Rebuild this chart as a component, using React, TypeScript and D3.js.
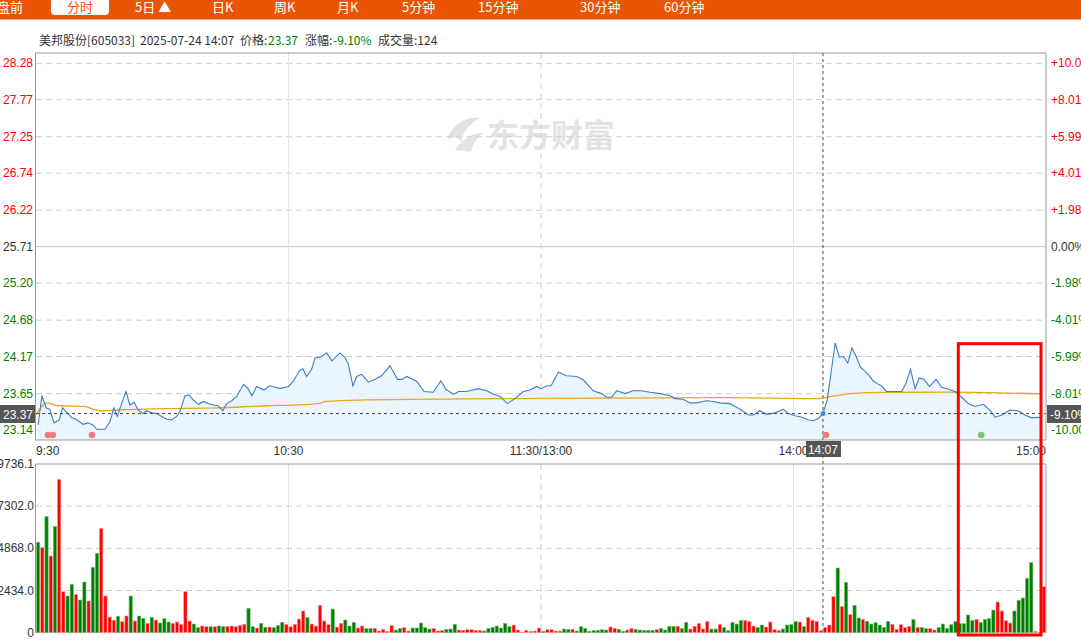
import React from "react";
import * as d3 from "d3";

// ---------- data ----------
const navItems = ["盘前", "分时", "5日 ▲", "日K", "周K", "月K", "5分钟", "15分钟", "30分钟", "60分钟"];
const navX = [-3, 67, 135, 212, 274, 337, 402, 478, 580, 664];
const selectedNav = 1;

const priceTicks = ["28.28", "27.77", "27.25", "26.74", "26.22", "25.71", "25.20", "24.68", "24.17", "23.65", "23.14"];
const pctTicks = ["+10.00%", "+8.01%", "+5.99%", "+4.01%", "+1.98%", "0.00%", "-1.98%", "-4.01%", "-5.99%", "-8.01%", "-10.00%"];
const prevClose = 25.71;
const volTicks = [0, 2434.0, 4868.0, 7302.0, 9736.1];
const volTickLabels = ["0", "2434.0", "4868.0", "7302.0", "9736.1"];
const timeTicks = [0, 60, 120, 180, 240];
const timeLabels = ["9:30", "10:30", "11:30/13:00", "14:00", "15:00"];

// [minute, price]
const priceSeries: [number, number][] = [
  [0.5, 23.21], [1.4, 23.62], [2.4, 23.45], [3.3, 23.43], [4.3, 23.24], [5.5, 23.28], [6.3, 23.45], [7.3, 23.39],
  [8.5, 23.31], [9.5, 23.29], [11.2, 23.22], [12.4, 23.24], [13.5, 23.21], [14.4, 23.15], [16.4, 23.15], [17.6, 23.26],
  [18.5, 23.45], [19.3, 23.33], [20.4, 23.52], [21.4, 23.68], [22.3, 23.49], [23.3, 23.53], [24.3, 23.42], [25.4, 23.37],
  [26.3, 23.41], [27.5, 23.38], [28.7, 23.37], [29.9, 23.33], [31.1, 23.29], [32.2, 23.28], [33.4, 23.33], [34.2, 23.4],
  [35.4, 23.62], [36.4, 23.63], [37.4, 23.56], [38.6, 23.5], [39.8, 23.54], [40.9, 23.51], [42.1, 23.49], [43.3, 23.48],
  [44.4, 23.41], [45.3, 23.51], [46.5, 23.55], [47.7, 23.61], [49.3, 23.78], [50.4, 23.72], [51.3, 23.62], [52.4, 23.75],
  [54.2, 23.7], [55.6, 23.76], [58, 23.72], [60, 23.75], [61.1, 23.82], [62.6, 23.97], [63.4, 24.0], [64.3, 23.89],
  [65.5, 23.99], [66.3, 24.15], [67.5, 24.16], [69.1, 24.22], [70.3, 24.11], [72.2, 24.22], [73.4, 24.16], [74.2, 24.07],
  [75.3, 23.76], [76.2, 23.89], [77.4, 23.92], [79, 23.81], [80.6, 23.85], [82.1, 23.9], [84.1, 24.04], [85.9, 23.85],
  [87, 23.85], [88.1, 23.89], [90.5, 23.82], [92.2, 23.68], [94.4, 23.67], [96.2, 23.83], [97.4, 23.71], [99.2, 23.64],
  [100.4, 23.68], [102.3, 23.68], [105.1, 23.72], [107.1, 23.69], [108.7, 23.64], [110.3, 23.61], [112, 23.51], [113.8, 23.58],
  [115.8, 23.68], [117.4, 23.7], [119, 23.75], [120, 23.72], [121.4, 23.76], [122.4, 23.76], [124.1, 23.95], [126.1, 23.9],
  [128.5, 23.89], [130.1, 23.84], [132.4, 23.69], [134.4, 23.65], [135.6, 23.6], [136.8, 23.6], [138, 23.69], [140, 23.65],
  [141.9, 23.69], [143.9, 23.69], [145.9, 23.67], [148.3, 23.65], [150.7, 23.62], [151.9, 23.58], [153.8, 23.57], [155.4, 23.52],
  [157, 23.52], [159.4, 23.55], [160.9, 23.54], [162.5, 23.52], [164.9, 23.51], [167.3, 23.43], [169.3, 23.35], [170.5, 23.35],
  [172, 23.41], [173.6, 23.36], [175.6, 23.38], [177.6, 23.43], [178.8, 23.37], [180.4, 23.34], [182, 23.32], [183.5, 23.28],
  [184.7, 23.27], [185.9, 23.3], [187, 23.37], [188, 23.56], [188.8, 23.89], [189.9, 24.36], [190.9, 24.16], [191.9, 24.17],
  [192.9, 24.08], [193.9, 24.29], [194.9, 24.17], [195.9, 24.02], [196.9, 23.97], [197.9, 23.91], [198.9, 23.83], [199.9, 23.79],
  [200.9, 23.76], [202.1, 23.68], [203.7, 23.68], [205.7, 23.68], [206.7, 23.79], [207.8, 23.99], [208.9, 23.72], [209.9, 23.87],
  [211, 23.85], [212.3, 23.75], [213.9, 23.85], [215.2, 23.74], [216.8, 23.71], [218.4, 23.68], [219.6, 23.62], [221.5, 23.51],
  [223.1, 23.47], [225.1, 23.5], [226.7, 23.42], [227.9, 23.32], [229.5, 23.35], [231.4, 23.42], [233.4, 23.41], [235, 23.35],
  [236.6, 23.31], [239, 23.32],
];

// [minute, average price]
const avgSeries: [number, number][] = [
  [0, 23.35], [2.5, 23.52], [5.3, 23.48], [11.3, 23.47], [15.2, 23.41], [19.2, 23.42], [31, 23.44], [43, 23.45],
  [55, 23.48], [61, 23.49], [67, 23.51], [69, 23.54], [77, 23.56], [101, 23.575], [148, 23.59], [163, 23.593],
  [186, 23.58], [189, 23.61], [193.4, 23.65], [202.1, 23.668], [218, 23.67], [238.6, 23.645],
];

const volumes = [
  5214, 4906, 6695, 4425, 6118, 8850, 2366, 2116, 2790, 2193, 1885, 2924, 1828, 3771, 4579, 6022, 2116, 904, 712, 943,
  635, 962, 2116, 673, 962, 827, 539, 885, 731, 558, 808, 616, 539, 616, 462, 2366, 673, 500, 289, 385,
  346, 346, 346, 385, 346, 366, 385, 346, 423, 481, 1405, 346, 269, 539, 308, 327, 289, 423, 596, 481,
  346, 481, 789, 1251, 866, 500, 385, 1578, 673, 462, 1366, 327, 539, 731, 385, 596, 269, 385, 231, 231,
  250, 96, 192, 77, 404, 154, 250, 289, 96, 269, 269, 558, 289, 212, 250, 96, 135, 192, 212, 481,
  154, 135, 173, 173, 135, 135, 96, 231, 308, 385, 269, 539, 346, 443, 154, 20, 135, 77, 96, 269,
  77, 173, 173, 96, 96, 212, 192, 192, 96, 346, 231, 77, 115, 135, 173, 154, 327, 250, 192, 77,
  154, 250, 192, 154, 135, 135, 135, 173, 250, 154, 366, 366, 366, 231, 596, 212, 366, 539, 212, 635,
  212, 212, 481, 289, 115, 596, 500, 712, 712, 654, 385, 289, 443, 327, 616, 173, 115, 212, 443, 462,
  635, 616, 346, 885, 712, 654, 115, 308, 443, 2078, 3733, 1501, 2905, 1039, 1578, 847, 770, 654, 500, 577,
  443, 308, 654, 481, 192, 462, 289, 366, 770, 308, 289, 231, 231, 154, 289, 500, 250, 462, 635, 519,
  519, 1020, 712, 770, 577, 770, 808, 1308, 1770, 1251, 693, 558, 1251, 1866, 2001, 3136, 4040, 77, 20, 2655,
];
const volDirs =
  "GRGRGRRGGRGGRGGRRRRGRRGRGGRGRGGGRRRRRGGRRGRGGRRRRRGGRGGRGGGRRRRRGRRRRRGRRGGGRRGGRRRRRGGRRGGGGGRRRGGGRRRRRRGGGGGGGRRRRRRRGRRRRGGRGGGGGGGGRRGGRRGGGGGRGGGGRGGRRRRRGGRGGGGGRRRGGRRRRGGGGRGRRRRRRRGRGRGGRGGGGGGRRRRRGRGGRRGGGGGGGGGRGGGGRRRRGGGGGRRR".split("");

// event markers on time axis
const markers: { minute: number; dir: string }[] = [
  { minute: 2.85, dir: "R" }, { minute: 4.0, dir: "R" }, { minute: 13.3, dir: "R" },
  { minute: 187.7, dir: "R" }, { minute: 224.6, dir: "G" },
];

const crossMinute = 187;
const crossPrice = 23.37;
const crossLabel = "14:07";
const crossPct = "-9.10%";

// ---------- component ----------
const RED = "#ff0000";
const GREEN = "#008000";
const AXISFONT = "Arial, 'Liberation Sans', sans-serif";
const CJKFONT = "'Microsoft YaHei', 'Noto Sans CJK SC', sans-serif";

export default function App() {
  const L = 36, R = 1046;
  const pTop = 53, pBot = 440;
  const vTop = 464, vBot = 632.7;

  const x = d3.scaleLinear().domain([0, 240]).range([L, R]);
  const y = d3.scaleLinear().domain([23.14, 28.28]).range([430, 63.3]);
  const yv = d3.scaleLinear().domain([0, 9736.1]).range([vBot, vTop]);
  const slot = x(1) - x(0);

  const line = d3.line<[number, number]>().x((d) => x(d[0])).y((d) => y(d[1]));
  const area = d3.area<[number, number]>().x((d) => x(d[0])).y0(pBot).y1((d) => y(d[1]));
  const avgLine = d3.line<[number, number]>().x((d) => x(d[0])).y((d) => y(d[1])).curve(d3.curveMonotoneX);

  const priceColor = (v: number) => (Math.abs(v - prevClose) < 0.001 ? "#333" : v > prevClose ? RED : GREEN);
  const cx = x(crossMinute);
  const cy = y(crossPrice);

  return (
    <div style={{ position: "absolute", left: 0, top: 0 }}>
      <svg width={1081} height={640} style={{ display: "block", background: "#fff" }}>
        {/* nav bar */}
        <rect x={0} y={0} width={1081} height={19.5} fill="#ea5504" />
        <rect x={51} y={-5} width={58} height={20} rx={4} fill="#fff" />
        {navItems.map((t, i) => (
          <text key={t} x={navX[i]} y={12} fontSize={13} fontFamily={CJKFONT}
            fill={i === selectedNav ? "#ea5504" : "#fff"}>{t}</text>
        ))}

        {/* header */}
        <text y={45} fontSize={12} fontFamily={CJKFONT} fill="#333">
          <tspan x={39}>美邦股份[605033]</tspan>
          <tspan x={140}>2025-07-24 14:07</tspan>
          <tspan x={240}>价格: </tspan>
          <tspan x={268} fill={GREEN}>23.37</tspan>
          <tspan x={305}>涨幅: </tspan>
          <tspan x={333} fill={GREEN}>-9.10%</tspan>
          <tspan x={378}>成交量:124</tspan>
        </text>

        {/* watermark */}
        <g fill="#e3e3e3">
          <path d="M447,140 C452,124 466,116 481,118 C470,123 463,131 461,142 C457,136 452,137 447,140 Z" />
          <path d="M455,150 C462,139 473,133 483,133 C476,139 472,145 471,152 Z" />
          <text x={487} y={147} fontSize={32} fontWeight="bold" fontFamily={CJKFONT}>东方财富</text>
        </g>

        {/* price gridlines */}
        {priceTicks.map((t, i) => {
          const v = parseFloat(t);
          const yy = y(v);
          const center = Math.abs(v - prevClose) < 0.001;
          return (
            <g key={t}>
              {!center && i > 0 && i < priceTicks.length - 1 ? (
                <line x1={L} x2={R} y1={yy} y2={yy} stroke="#cfcfcf" strokeDasharray="6,4" />
              ) : null}
              {i === 0 || i === priceTicks.length - 1 ? (
                <line x1={L} x2={R} y1={yy} y2={yy} stroke="#cfcfcf" strokeDasharray="6,4" />
              ) : null}
              {center ? <line x1={L} x2={R} y1={yy} y2={yy} stroke="#c8c8c8" /> : null}
              <text x={33} y={yy + 4} fontSize={12} textAnchor="end" fontFamily={AXISFONT} fill={priceColor(v)}>{t}</text>
              <text x={1051} y={yy + 4} fontSize={12} fontFamily={AXISFONT} fill={priceColor(v)}>{pctTicks[i]}</text>
            </g>
          );
        })}

        {/* vertical grid lines */}
        {timeTicks.slice(1, 4).map((m, i) => (
          <g key={m}>
            <line x1={x(m)} x2={x(m)} y1={pTop} y2={pBot} stroke={i === 1 ? "#cfcfcf" : "#e6e6e6"} strokeDasharray={i === 1 ? "6,4" : undefined} />
            <line x1={x(m)} x2={x(m)} y1={vTop} y2={vBot} stroke={i === 1 ? "#cfcfcf" : "#e6e6e6"} strokeDasharray={i === 1 ? "6,4" : undefined} />
          </g>
        ))}

        {/* price area & lines */}
        <path d={area(priceSeries) || ""} fill="#e6f3fd" opacity={0.85} />
        <path d={avgLine(avgSeries) || ""} fill="none" stroke="#e6a623" strokeWidth={1.3} />
        <path d={line(priceSeries) || ""} fill="none" stroke="#3f7cc8" strokeWidth={1.1} />

        {/* crosshair */}
        <line x1={L} x2={R} y1={cy} y2={cy} stroke="#444" strokeDasharray="3,3" />
        <line x1={cx} x2={cx} y1={pTop} y2={vBot} stroke="#444" strokeDasharray="3,3" />
        <circle cx={cx} cy={cy} r={2.5} fill="#3f8fe0" />

        {/* markers */}
        {markers.map((mk, i) => (
          <circle key={i} cx={x(mk.minute)} cy={435} r={3.3} fill={mk.dir === "R" ? "#f47a7a" : "#7fc07f"} />
        ))}

        {/* price box */}
        <rect x={L - 0.5} y={pTop} width={R - L + 0.5} height={pBot - pTop} fill="none" stroke="#9a9a9a" />

        {/* time labels */}
        {timeLabels.map((t, i) => (
          <text key={t} x={i === 0 ? L : i === 4 ? R : x(timeTicks[i])} y={455} fontSize={12} fontFamily={AXISFONT} fill="#333"
            textAnchor={i === 0 ? "start" : i === 4 ? "end" : "middle"}>{t}</text>
        ))}

        {/* crosshair labels */}
        <rect x={0} y={405} width={35} height={18} fill="#555" />
        <text x={33} y={418.5} fontSize={12} textAnchor="end" fontFamily={AXISFONT} fill="#fff">{crossPrice.toFixed(2)}</text>
        <rect x={1047} y={405} width={40} height={18} fill="#555" />
        <text x={1050} y={418.5} fontSize={12} fontFamily={AXISFONT} fill="#fff">{crossPct}</text>
        <rect x={cx - 17} y={441} width={35} height={16} fill="#555" />
        <text x={cx} y={453.5} fontSize={12} textAnchor="middle" fontFamily={AXISFONT} fill="#fff">{crossLabel}</text>

        {/* volume grid */}
        {volTicks.map((v, i) => (
          <g key={v}>
            {i > 0 && i < volTicks.length - 1 ? (
              <line x1={L} x2={R} y1={yv(v)} y2={yv(v)} stroke="#cfcfcf" strokeDasharray="6,4" />
            ) : null}
            <text x={34} y={yv(v) + 4} fontSize={12} textAnchor="end" fontFamily={AXISFONT} fill="#333">{volTickLabels[i]}</text>
          </g>
        ))}

        {/* volume bars */}
        {volumes.map((v, k) => {
          const red = volDirs[k] === "R";
          const top = yv(v);
          return (
            <rect key={k} x={x(k) + 0.5} y={top} width={slot - 1} height={Math.max(0.5, vBot - top)}
              fill={red ? RED : GREEN} stroke={red ? "#ff8c8c" : "#6fb86f"} strokeWidth={0.6} />
          );
        })}

        {/* volume box */}
        <path d={`M${L - 0.5},${vBot} V${vTop} H${R} V${vBot}`} fill="none" stroke="#9a9a9a" />

        {/* annotation rectangle */}
        <rect x={958.3} y={343.7} width={82.7} height={291.3} fill="none" stroke="#ff0000" strokeWidth={3} />
      </svg>
    </div>
  );
}
